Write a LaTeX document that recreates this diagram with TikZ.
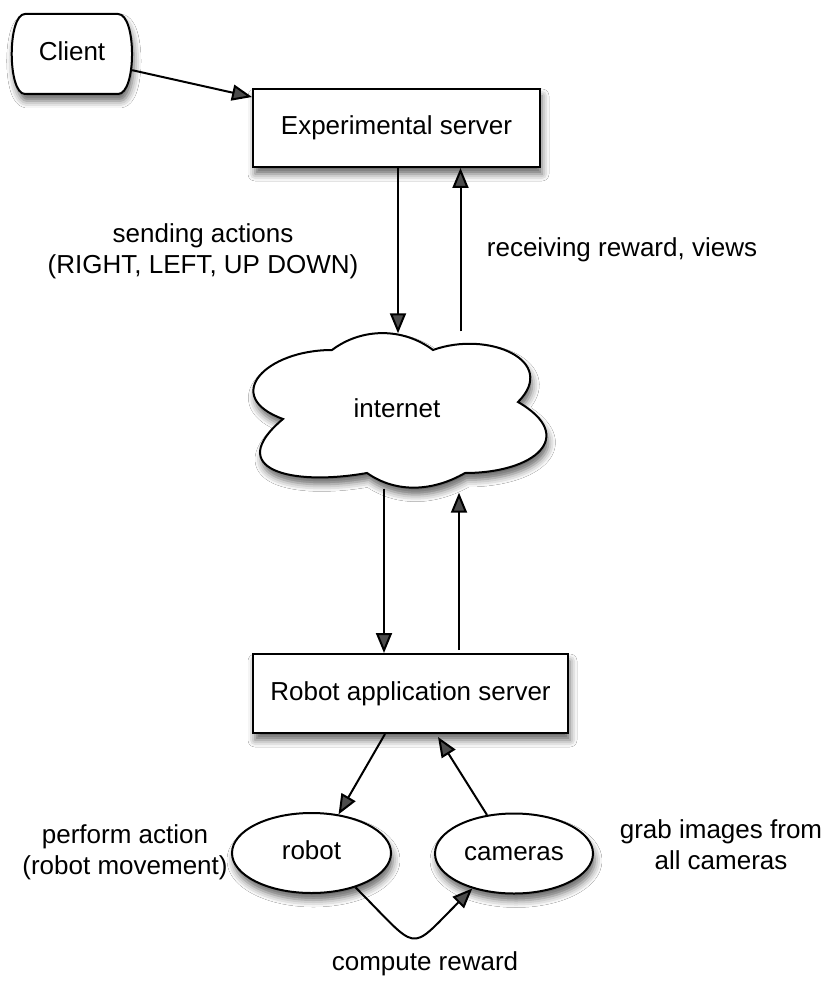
\documentclass[tikz,border=0pt]{standalone}
\usepackage{fontspec}
\setmainfont{Liberation Sans}
\usetikzlibrary{arrows.meta,shapes.geometric,shadows.blur,calc}

\begin{document}
\begin{tikzpicture}[x=1pt,y=1pt,
  every node/.style={font=\fontsize{26}{31}\selectfont, inner sep=0pt},
  outlined/.style={draw=black, line width=2pt, fill=white,
    blur shadow={shadow xshift=2pt, shadow yshift=-7pt, shadow blur radius=7pt, shadow opacity=60}},
  textfix/.style={text height=18.6pt, text depth=5.5pt},
  box/.style={outlined, textfix, rectangle, minimum width=287pt, minimum height=78pt},
  oval/.style={outlined, textfix, ellipse, minimum width=159pt, minimum height=80pt},
  arr/.style={line width=2pt, -{Triangle[length=20pt,width=16pt]}},
  note/.style={align=center}
]
\useasboundingbox[fill=white] (0,0) rectangle (831,-981);

% client: flat top and bottom, bulging sides
\draw[outlined] (25,-14) -- (118,-14)
  .. controls (136.7,-14) and (136.7,-94) .. (118,-94) -- (25,-94)
  .. controls (7.3,-94) and (7.3,-14) .. cycle;
\node[textfix, minimum width=120pt, minimum height=80pt] (client) at (72,-54) {Client};

\node[box] (exp) at (396.5,-128) {Experimental server};

% internet cloud
\draw[outlined] (332,-350) to[out=37,in=143,looseness=0.95] (433,-350)
  to[out=20,in=45,looseness=1.5] (518,-402)
  to[out=-30,in=0,looseness=2] (465,-473)
  to[out=-150,in=-35,looseness=0.95] (367,-473)
  to[out=190,in=220,looseness=2] (283,-419)
  to[out=160,in=180,looseness=2] cycle;
\node[textfix, minimum width=290pt, minimum height=155pt] (net) at (397,-411) {internet};

\node[box, minimum width=315pt, minimum height=79pt] (rob) at (410.5,-693.5) {Robot application server};
\node[oval] (robot) at (311.5,-853) {robot};
\node[oval, minimum width=158pt] (cam) at (514,-853.5) {cameras};

% labels
\node[note] (lsend) at (203,-251) {sending actions\\(RIGHT, LEFT, UP DOWN)};
\node[anchor=base] (lrecv) at (622,-257) {receiving reward, views};
\node[note] (lperf) at (125,-852) {perform action\\(robot movement)};
\node[note] (lgrab) at (721,-845) {grab images from\\all cameras};
\node[anchor=base] (lcomp) at (425,-970) {compute reward};

% connectors
\draw[arr] ([yshift=24pt]client.south east) -- ([yshift=-9pt]exp.north west);
\draw[arr] ([xshift=1.5pt]exp.south) -- ([xshift=1.5pt]exp.south |- net.north);
\draw[arr] ([xshift=64pt,yshift=2pt]exp.south |- net.north) -- ([xshift=64pt]exp.south);
\draw[arr] ([xshift=-26.5pt]rob.north |- net.south) -- ([xshift=-26.5pt]rob.north);
\draw[arr] ([xshift=48.5pt,yshift=3pt]rob.north) -- ([xshift=48.5pt,yshift=-4pt]rob.north |- net.south);
\draw[arr] ([xshift=-25.5pt]rob.south) -- (robot.55);
\draw[arr] (cam.125) -- ([xshift=27.5pt,yshift=-3pt]rob.south);
\draw[arr] (robot.-38) .. controls +(65,-65) and +(-65,-65) .. (cam.-140);
\end{tikzpicture}
\end{document}
